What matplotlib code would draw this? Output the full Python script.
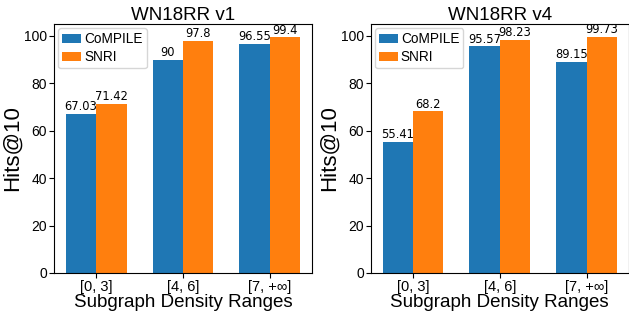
import numpy as np
import matplotlib
matplotlib.use('Agg')
import matplotlib.pyplot as plt

ranges = ['[0, 3]', '[4, 6]', '[7, +∞]']
titles = ['WN18RR v1', 'WN18RR v4']
compile_v1 = [67.03, 90, 96.55]
snri_v1 = [71.42, 97.8, 99.4]
compile_v4 = [55.41, 95.57, 89.15]
snri_v4 = [68.2, 98.23, 99.73]

sans = ['Liberation Sans', 'DejaVu Sans']

fig, axes = plt.subplots(1, 2, figsize=(6.29, 3.13), dpi=100)
x = np.arange(len(ranges))
w = 0.35

for ax, title, c, s in zip(axes, titles, [compile_v1, compile_v4], [snri_v1, snri_v4]):
    b1 = ax.bar(x - w/2, c, w, label='CoMPILE', color='#1f77b4')
    b2 = ax.bar(x + w/2, s, w, label='SNRI', color='#ff7f0e')
    ax.bar_label(b1, labels=[f'{v:g}' for v in c], fontsize=8.3, padding=0.5)
    ax.bar_label(b2, labels=[f'{v:g}' for v in s], fontsize=8.3, padding=0.5)
    ax.set_ylim(0, 105)
    ax.set_xticks(x)
    ax.set_xticklabels(ranges, family=sans, fontsize=10.5)
    for t in ax.get_yticklabels():
        t.set_family(sans)
        t.set_fontsize(10)
    ax.tick_params(pad=1.5)
    ax.set_title(title, family=sans, fontsize=13.5, pad=2)
    ax.set_ylabel('Hits@10', family=sans, fontsize=16, labelpad=1)
    ax.set_xlabel('Subgraph Density Ranges', family=sans, fontsize=13.5, labelpad=0)
    ax.legend(loc='upper left', prop={'family': sans, 'size': 9.8},
              handlelength=1.4, handletextpad=0.2, labelspacing=0.3,
              borderaxespad=0.3, borderpad=0.3)

fig.subplots_adjust(left=0.086, right=0.9995, top=0.923, bottom=0.128, wspace=0.229)
fig.savefig('out.png')
